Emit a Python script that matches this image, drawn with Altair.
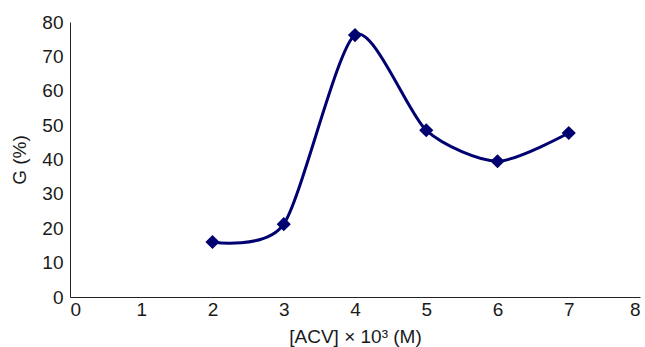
import altair as alt
import pandas as pd

acv = [2, 3, 4, 5, 6, 7]
g_pct = [16.0, 21.2, 76.2, 48.5, 39.5, 47.7]

df = pd.DataFrame({"acv": acv, "g": g_pct})

FONT = "Liberation Sans"
COLOR = "#000070"

x = alt.X("acv:Q", scale=alt.Scale(domain=[0, 8], nice=False),
          axis=alt.Axis(title="[ACV] × 10³ (M)", values=list(range(0, 9)), format="d",
                        ticks=False, grid=False, labelPadding=3, titlePadding=8))
y = alt.Y("g:Q", scale=alt.Scale(domain=[0, 80], nice=False),
          axis=alt.Axis(title="G (%)", values=list(range(0, 81, 10)), format="d",
                        ticks=False, grid=False, labelPadding=7, titlePadding=12))

line = alt.Chart(df).mark_line(interpolate="cardinal", tension=0.25, color=COLOR, strokeWidth=3).encode(x=x, y=y)
pts = alt.Chart(df).mark_point(shape="diamond", filled=True, size=200, color=COLOR, opacity=1).encode(x=x, y=y)

chart = (line + pts).properties(
    width=570, height=275,
    autosize=alt.AutoSizeParams(type="none"),
    padding={"left": 70, "top": 22, "right": 5, "bottom": 50},
).configure_view(stroke=None).configure_axis(
    labelFont=FONT, titleFont=FONT, labelFontSize=19, titleFontSize=19,
    labelColor="#1a1a1a", titleColor="#1a1a1a", titleFontWeight="normal",
    domainColor="#222222", domainWidth=1,
)

chart.save("out.html", embed_options={"renderer": "svg", "actions": False})
